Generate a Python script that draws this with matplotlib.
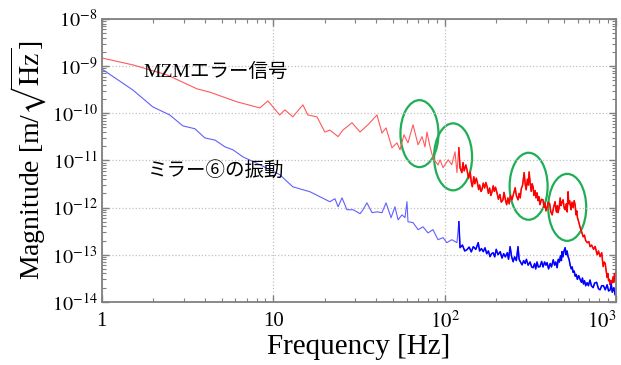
import matplotlib
matplotlib.use("Agg")
import matplotlib.pyplot as plt
from matplotlib.patches import Ellipse
from matplotlib.ticker import FixedLocator, FixedFormatter, LogLocator, NullFormatter
import numpy as np

plt.rcParams['font.family'] = ['Liberation Serif', 'Noto Sans CJK JP']
plt.rcParams['mathtext.fontset'] = 'stix'

# MZMエラー信号 (red)
red_freq = [1, 1.52, 2.4, 3.59, 4.27, 6.14, 8.36, 9.31, 10.9, 11.7, 13.0, 14.9, 15.9,
            18.0, 20.0, 21.4, 23.9, 25.5, 28.8, 32.1, 35.7, 40.3, 43.1, 45.5, 49.3,
            52.7, 54.9, 57.9, 61.1, 65.4, 70.0, 73.8, 76.8, 78.9, 82.2, 85.5, 91.5,
            94.0, 97.9, 105, 110, 115, 118,
            121, 123, 126, 128, 130, 133, 135, 138, 141, 143, 145, 148, 150, 153, 155,
            158, 160, 163, 165, 168, 171, 174, 177, 180, 183, 186, 189, 192, 195, 198,
            202, 206, 210, 214, 219, 222, 226, 230, 234, 238, 242, 247, 252, 258, 262,
            268, 272, 276, 280, 285, 291, 295, 299, 304, 308, 311, 316, 320, 324, 328,
            332, 337, 341, 346, 351, 355, 360, 367, 375, 380, 385, 390, 396, 402, 410,
            417, 424, 432, 441, 446, 450, 455, 459, 466, 472, 478, 484, 491, 498, 505,
            512, 519, 525, 530, 536, 541, 547, 553, 562, 570, 577, 584, 590, 596, 601,
            610, 620, 631, 643, 654, 665, 680, 694, 706, 720, 740, 755, 776, 790, 807,
            825, 841, 853, 865, 876, 887, 896, 905, 915, 925, 935, 945, 962, 970, 980,
            990, 1000]
red_mag = [1.49e-9, 1.06e-9, 6.5e-10, 3.3e-10, 2.8e-10, 1.75e-10, 1.30e-10, 1.83e-10,
           9.2e-11, 1.18e-10, 8.4e-11, 1.51e-10, 9.2e-11, 8.4e-11, 4.0e-11, 4.4e-11,
           3.2e-11, 4.4e-11, 6.3e-11, 4.0e-11, 5.7e-11, 9.2e-11, 3.8e-11, 4.9e-11,
           1.85e-11, 2.36e-11, 1.68e-11, 3.5e-11, 2.36e-11, 5.7e-11, 2.14e-11, 3.2e-11,
           1.94e-11, 4.0e-11, 1.94e-11, 1.13e-11, 8.0e-12, 1.03e-11, 7.0e-12, 1.03e-11,
           8.1e-12, 1.52e-11, 5.5e-12,
           1.85e-11, 7.0e-12, 5.5e-12, 9.0e-12, 6.0e-12, 8.0e-12, 6.3e-12, 4.2e-12,
           5.7e-12, 3.5e-12, 2.76e-12, 4.5e-12, 3.2e-12, 4.2e-12, 3.5e-12, 2.4e-12,
           3.0e-12, 2.2e-12, 2.38e-12, 3.3e-12, 2.6e-12, 3.4e-12, 2.76e-12, 2.0e-12,
           2.6e-12, 1.8e-12, 2.16e-12, 2.9e-12, 2.2e-12, 2.7e-12, 2.06e-12, 1.5e-12,
           1.9e-12, 1.3e-12, 1.46e-12, 2.1e-12, 1.5e-12, 1.15e-12, 1.6e-12, 1.2e-12,
           1.8e-12, 1.46e-12, 1.9e-12, 2.63e-12, 1.8e-12, 1.46e-12, 2.0e-12, 1.6e-12,
           2.5e-12, 3.0e-12, 5.5e-12, 3.2e-12, 2.38e-12, 4.0e-12, 3.0e-12, 5.7e-12,
           3.2e-12, 2.2e-12, 3.2e-12, 2.76e-12, 1.8e-12, 2.3e-12, 1.6e-12, 2.06e-12,
           1.4e-12, 1.7e-12, 1.15e-12, 1.5e-12, 1.46e-12, 1.0e-12, 1.25e-12, 8.5e-13,
           9.9e-13, 1.3e-12, 1.2e-12, 8.0e-13, 7.0e-13, 1.0e-12, 1.33e-12, 9.0e-13,
           8.0e-13, 1.1e-12, 7.8e-13, 1.0e-12, 1.6e-12, 1.1e-12, 1.3e-12, 1.46e-12,
           1.0e-12, 9.0e-13, 1.2e-12, 8.1e-13, 2.16e-12, 1.2e-12, 1.4e-12, 1.1e-12,
           9.0e-13, 1.3e-12, 1.0e-12, 1.4e-12, 1.15e-12, 7.0e-13, 8.5e-13, 6.0e-13,
           5.5e-13, 4.5e-13, 3.6e-13, 3.0e-13, 2.4e-13, 2.6e-13, 2.0e-13, 1.8e-13,
           1.9e-13, 1.48e-13, 1.6e-13, 1.3e-13, 1.5e-13, 1.0e-13, 1.2e-13, 9.1e-14,
           1.1e-13, 5.6e-14, 7.0e-14, 6.5e-14, 4.5e-14, 3.3e-14, 4.0e-14, 2.8e-14,
           3.0e-14, 2.3e-14, 2.8e-14, 2.5e-14, 3.4e-14, 2.6e-14, 4.0e-14, 3.2e-14,
           4.8e-14]

# ミラー⑥の振動 (blue)
blue_freq = [1, 1.52, 1.98, 2.49, 2.97, 3.49, 3.99, 4.57, 5.23, 5.82, 6.65, 8.36, 10.9,
             13.0, 14.3, 16.4, 18.7, 21.4, 22.9, 23.9, 25.2, 26.9, 29.2, 30.8, 32.1,
             33.4, 35.2, 37.7, 40.3, 43.1, 45.5, 48.7, 51.3, 53.5, 56.4, 58.7, 60.3,
             61.1, 65.4, 70.0, 74.8, 80.0, 85.5, 91.5, 97.9, 103, 110, 118, 121,
             123, 127, 131, 135, 139, 143, 147, 152, 157, 160, 164, 168, 172, 176, 180,
             184, 188, 192, 196, 200, 205, 211, 216, 221, 226, 232, 236, 241, 246, 251,
             256, 262, 268, 272, 277, 283, 289, 295, 300, 307, 315, 322, 328, 335, 340,
             346, 352, 360, 368, 375, 383, 390, 396, 404, 413, 420, 430, 438, 445, 453,
             460, 467, 474, 480, 484, 490, 497, 505, 511, 518, 525, 532, 540, 548, 555,
             562, 570, 578, 586, 595, 605, 617, 628, 637, 645, 655, 665, 678, 690, 705,
             718, 735, 750, 770, 790, 807, 825, 845, 865, 887, 905, 925, 938, 950, 970,
             988]
blue_mag = [8.7e-10, 3.1e-10, 1.37e-10, 9.2e-11, 5.4e-11, 4.7e-11, 3.0e-11, 2.7e-11,
            1.94e-11, 1.68e-11, 1.19e-11, 8.1e-12, 5.0e-12, 2.76e-12, 2.5e-12, 2.16e-12,
            1.7e-12, 1.33e-12, 1.54e-12, 1.04e-12, 1.61e-12, 9.0e-13, 9.0e-13, 8.1e-13,
            7.4e-13, 9.0e-13, 1.26e-12, 7.8e-13, 8.1e-13, 7.8e-13, 1.26e-12, 6.1e-13,
            1.04e-12, 5.5e-13, 7.0e-13, 6.1e-13, 1.33e-12, 5.0e-13, 4.8e-13, 3.4e-13,
            3.9e-13, 2.9e-13, 3.4e-13, 2.08e-13, 2.3e-13, 1.8e-13, 2.08e-13, 1.8e-13,
            5.0e-13,
            1.41e-13, 1.6e-13, 1.2e-13, 1.28e-13, 1.45e-13, 1.15e-13, 1.48e-13, 1.3e-13,
            1.8e-13, 1.2e-13, 1.35e-13, 1.16e-13, 1.4e-13, 1.05e-13, 1.2e-13, 9.1e-14,
            1.05e-13, 1.10e-13, 9.0e-14, 1.3e-13, 1.0e-13, 1.16e-13, 8.5e-14, 1.05e-13,
            9.0e-14, 1.1e-13, 8.0e-14, 1.48e-13, 9.0e-14, 7.1e-14, 9.0e-14, 7.5e-14,
            1.48e-13, 8.0e-14, 7.0e-14, 6.1e-14, 7.5e-14, 6.5e-14, 8.0e-14, 6.0e-14,
            7.0e-14, 5.5e-14, 5.3e-14, 6.5e-14, 5.0e-14, 7.0e-14, 5.5e-14, 5.6e-14,
            7.2e-14, 5.5e-14, 7.0e-14, 6.0e-14, 6.8e-14, 5.0e-14, 6.5e-14, 5.5e-14,
            7.8e-14, 6.0e-14, 7.0e-14, 5.3e-14, 8.0e-14, 7.0e-14, 9.5e-14, 7.5e-14,
            1.16e-13, 9.0e-14, 1.2e-13, 1.41e-13, 1.0e-13, 1.2e-13, 9.1e-14, 8.0e-14,
            6.0e-14, 5.0e-14, 5.5e-14, 4.2e-14, 4.5e-14, 3.5e-14, 3.8e-14, 3.0e-14,
            3.6e-14, 3.0e-14, 2.6e-14, 3.2e-14, 2.4e-14, 2.8e-14, 2.2e-14, 2.55e-14,
            2.2e-14, 2.9e-14, 2.2e-14, 2.0e-14, 2.5e-14, 2.6e-14, 1.9e-14, 1.8e-14,
            2.2e-14, 2.2e-14, 1.8e-14, 2.3e-14, 1.7e-14, 1.8e-14, 2.4e-14, 1.6e-14,
            2.0e-14, 1.42e-14]

# highlighted peaks (green circles)
circle_freq = [71.3, 112, 309, 519]
circle_mag = [3.7e-11, 1.19e-11, 2.83e-12, 1.01e-12]

xtick_vals = [1, 10, 100, 1000]
xtick_labels = ['1', '10', '$10^2$', '$10^3$']
ytick_vals = [1e-14, 1e-13, 1e-12, 1e-11, 1e-10, 1e-9, 1e-8]
ytick_labels = ['$10^{-14}$', '$10^{-13}$', '$10^{-12}$', '$10^{-11}$',
                '$10^{-10}$', '$10^{-9}$', '$10^{-8}$']

fig = plt.figure(figsize=(6.21, 3.65), dpi=100)
ax = fig.add_axes([0.164, 0.173, 0.828, 0.775])

red_f = np.array(red_freq)
red_m = np.array(red_mag)
blue_f = np.array(blue_freq)
blue_m = np.array(blue_mag)

# thin light line everywhere, heavier where the spectrum is dense
ax.plot(red_f, red_m, color='#ff5a5a', lw=0.8)
ax.plot(np.where(red_f >= 120, red_f, np.nan), red_m, color='red', lw=1.1)
ax.plot(blue_f, blue_m, color='#6060ff', lw=0.8)
ax.plot(np.where(blue_f >= 120, blue_f, np.nan), blue_m, color='blue', lw=1.1)

ax.set_xscale('log')
ax.set_yscale('log')
ax.set_xlim(1, 1000)
ax.set_ylim(1e-14, 1e-8)

ax.xaxis.set_major_locator(FixedLocator(xtick_vals))
ax.xaxis.set_major_formatter(FixedFormatter(xtick_labels))
ax.yaxis.set_major_locator(FixedLocator(ytick_vals))
ax.yaxis.set_major_formatter(FixedFormatter(ytick_labels))
ax.xaxis.set_minor_locator(LogLocator(base=10, subs=np.arange(2, 10)))
ax.yaxis.set_minor_locator(LogLocator(base=10, subs=np.arange(2, 10)))
ax.xaxis.set_minor_formatter(NullFormatter())
ax.yaxis.set_minor_formatter(NullFormatter())

ax.tick_params(which='both', direction='in', top=True, right=True, color='#808080')
ax.tick_params(which='major', length=5, width=1)
ax.tick_params(which='minor', length=3, width=0.8)
ax.tick_params(axis='x', labelsize=15, pad=7)
ax.tick_params(axis='y', labelsize=14.5, pad=3)
for sp in ax.spines.values():
    sp.set_color('#808080')
    sp.set_linewidth(1.3)

ax.grid(True, which='major', color='#c0c0c0', linestyle=':', linewidth=0.9)

ax.set_xlabel('Frequency [Hz]', fontsize=21, labelpad=1)
ax.set_ylabel(r'Magnitude [m/$\sqrt{\mathrm{Hz}}$]', fontsize=20, labelpad=2)

# keep the 10^3 label inside the figure like the original
fig.canvas.draw()
ax.get_xticklabels()[-1].set_horizontalalignment('right')

ax.text(0.080, 0.813, 'MZMエラー信号', transform=ax.transAxes, fontsize=14,
        va='center', ha='left', family=['Liberation Serif', 'Noto Sans CJK JP'])
ax.text(0.0895, 0.466, 'ミラー⑥の振動', transform=ax.transAxes, fontsize=14,
        va='center', ha='left', family=['Noto Sans CJK JP', 'DejaVu Sans'])

# green ellipses around the peaks, sized in axes fraction
to_axes = ax.transData + ax.transAxes.inverted()
for f, m in zip(circle_freq, circle_mag):
    cx, cy = to_axes.transform((f, m))
    ax.add_patch(Ellipse((cx, cy), 38 / 514, 67 / 283, transform=ax.transAxes,
                         fill=False, edgecolor='#1fae55', lw=1.6))

fig.savefig('out.png', dpi=100, facecolor='white')
